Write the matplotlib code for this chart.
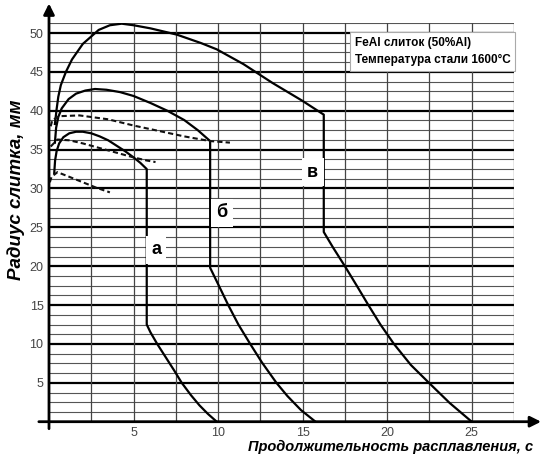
import numpy as np
import matplotlib
matplotlib.use('Agg')
import matplotlib.pyplot as plt

plt.rcParams['font.family'] = ['Liberation Sans', 'DejaVu Sans']

# solid curves: rise, peak, vertical drop, then melt-out tail
a_x = [0.31, 0.36, 0.45, 0.6, 0.85, 1.2, 1.6, 2.0, 2.5, 3.0, 3.5, 4.0, 4.5, 5.0, 5.4, 5.78,
       5.78, 6.0, 6.4, 6.9, 7.4, 7.85, 8.4, 8.9, 9.4, 9.92]
a_y = [32.0, 33.6, 34.8, 35.8, 36.6, 37.1, 37.3, 37.3, 37.1, 36.7, 36.2, 35.5, 34.8, 34.0, 33.3, 32.5,
       12.5, 11.5, 10.0, 8.3, 6.6, 5.0, 3.4, 2.1, 1.0, 0.0]

b_x = [0.35, 0.42, 0.55, 0.75, 1.16, 1.6, 2.15, 2.72, 3.4, 4.2, 5.0, 6.0, 7.0, 7.5, 8.0, 8.8, 9.53,
       9.53, 10.0, 10.6, 11.2, 11.9, 12.6, 13.45, 14.1, 14.9, 15.76]
b_y = [35.9, 37.8, 39.2, 40.3, 41.5, 42.2, 42.6, 42.8, 42.7, 42.4, 41.9, 41.0, 40.0, 39.4, 38.8, 37.5, 36.1,
       19.8, 17.7, 15.0, 12.5, 10.0, 7.6, 5.0, 3.3, 1.5, 0.0]

c_x = [0.35, 0.45, 0.55, 0.7, 1.0, 1.36, 2.0, 2.94, 3.6, 4.3, 5.0, 6.0, 7.55, 9.0, 9.92, 11.5, 13.2, 14.97, 16.25,
       16.25, 16.8, 17.5, 18.2, 18.86, 19.6, 20.4, 21.4, 22.47, 23.7, 25.0]
c_y = [38.3, 40.2, 41.8, 43.3, 45.0, 46.6, 48.6, 50.4, 51.0, 51.2, 51.0, 50.6, 49.8, 48.7, 47.9, 46.0, 43.6, 41.3, 39.5,
       24.4, 22.4, 20.0, 17.5, 15.1, 12.5, 10.0, 7.3, 5.0, 2.4, 0.0]

# dashed curves
d1_x = [0.1, 0.2, 0.6, 1.8, 3.5, 5.0, 6.5, 8.0, 9.53, 10.7]
d1_y = [38.0, 38.8, 39.3, 39.4, 38.9, 38.1, 37.4, 36.7, 36.1, 35.9]
d2_x = [0.1, 0.5, 1.2, 2.0, 3.0, 4.0, 5.0, 5.78, 6.3]
d2_y = [35.4, 36.3, 36.2, 35.8, 35.2, 34.6, 34.0, 33.6, 33.4]
d3_x = [0.05, 0.15, 0.5, 1.2, 2.0, 2.8, 3.6]
d3_y = [30.8, 31.5, 32.1, 31.5, 30.8, 30.1, 29.5]

x_ticks = [5, 10, 15, 20, 25]
y_ticks = [5, 10, 15, 20, 25, 30, 35, 40, 45, 50]

fig = plt.figure(figsize=(5.44, 4.57), dpi=100)
ax = fig.add_axes([49 / 544, 35.3 / 457, 465 / 544, 398.4 / 457])
ax.set_xlim(0, 27.5)
ax.set_ylim(0, 51.25)
for s in ax.spines.values():
    s.set_visible(False)

# grid: thin every 1.25 mm / 2.5 s, heavy every 5 mm
for yv in np.arange(1.25, 51.3, 1.25):
    if abs(yv % 5) < 1e-6:
        ax.axhline(yv, color='black', lw=1.6, zorder=1)
    else:
        ax.axhline(yv, color='#555555', lw=0.8, zorder=1)
for xv in np.arange(2.5, 27.6, 2.5):
    ax.axvline(xv, color='#444444', lw=0.9, zorder=1)

for xs, ys in [(a_x, a_y), (b_x, b_y), (c_x, c_y)]:
    ax.plot(xs, ys, color='black', lw=1.6, zorder=3, solid_joinstyle='round')
for xs, ys in [(d1_x, d1_y), (d2_x, d2_y), (d3_x, d3_y)]:
    ax.plot(xs, ys, color='#111111', lw=1.5, ls=(0, (2.5, 1.5)), zorder=3)

# axis arrows
ax.annotate('', xy=(29.1, 0), xytext=(-0.6, 0), annotation_clip=False,
            arrowprops=dict(arrowstyle='-|>', lw=2, color='black', mutation_scale=16,
                            shrinkA=0, shrinkB=0), zorder=5)
ax.annotate('', xy=(0, 53.8), xytext=(0, -0.9), annotation_clip=False,
            arrowprops=dict(arrowstyle='-|>', lw=2, color='black', mutation_scale=16,
                            shrinkA=0, shrinkB=0), zorder=5)

ax.set_xticks(x_ticks)
ax.set_yticks(y_ticks)
ax.tick_params(length=0, labelsize=9, labelcolor='#444444')
ax.tick_params(axis='x', pad=4)
ax.tick_params(axis='y', pad=4)

fig.text(0.718, 0.006, 'Продолжительность расплавления, с', ha='center', va='bottom',
         fontsize=10.5, fontweight='bold', style='italic')
fig.text(0.03, 0.585, 'Радиус слитка, мм', ha='center', va='center', rotation=90,
         fontsize=13.5, fontweight='bold', style='italic')

# curve labels
for lbl, xv, yv in [('а', 6.33, 22.1), ('б', 10.24, 26.9), ('в', 15.6, 32.1)]:
    ax.text(xv, yv, lbl, ha='center', va='center', fontsize=13, fontweight='bold', zorder=4,
            bbox=dict(boxstyle='square,pad=0.3', fc='white', ec='none'))

ax.text(0.657, 0.966, 'FeAl слиток (50%Al)\nТемпература стали 1600°C', transform=ax.transAxes,
        ha='left', va='top', fontsize=8.5, fontweight='bold', linespacing=1.6, zorder=4,
        bbox=dict(boxstyle='square,pad=0.4', fc='white', ec='#aaaaaa', lw=0.8))

fig.savefig('out.png', dpi=100)
